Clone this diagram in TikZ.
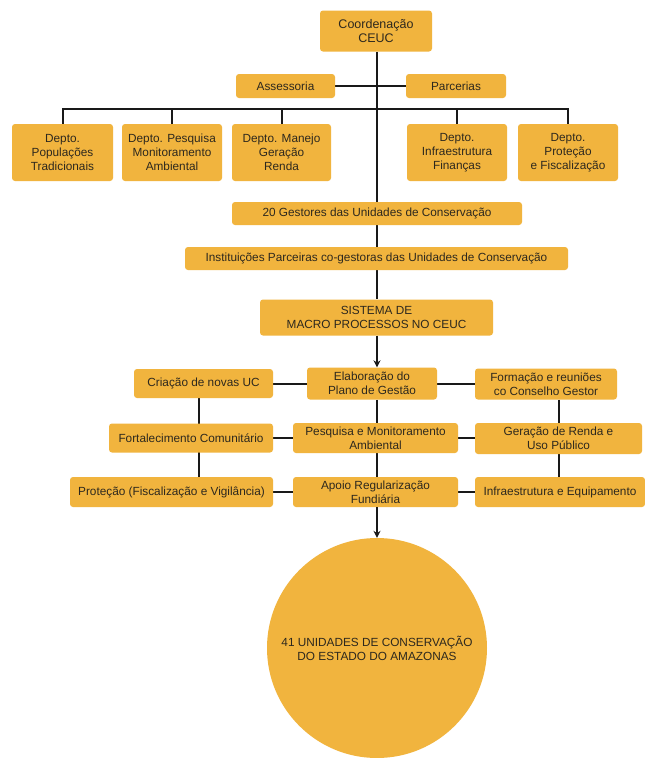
\documentclass[tikz,border=0pt]{standalone}
\usepackage{fontspec}
\setmainfont{Liberation Sans}
\usetikzlibrary{arrows.meta,backgrounds}
\definecolor{boxfill}{RGB}{241,180,62}
\definecolor{txt}{RGB}{45,40,30}
\definecolor{ln}{RGB}{25,25,25}
\tikzset{
  bx/.style={fill=boxfill,rounded corners=3pt,align=center,inner sep=1pt,text=txt,
    font=\fontsize{11.8}{14}\selectfont},
  conn/.style={draw=ln,line width=2pt},
  arr/.style={conn,-{Stealth[length=7pt,width=7pt]}},
}
\begin{document}
\begin{tikzpicture}[x=1pt,y=-1pt]
\useasboundingbox (0,0) rectangle (645,758);
\node[bx,minimum width=112pt,minimum height=41pt,font=\fontsize{12.5}{14.5}\selectfont] (coord) at (376,31) {Coordenação\\CEUC};
\node[bx,minimum width=99pt,minimum height=24pt] (assess) at (285.5,86) {Assessoria};
\node[bx,minimum width=100pt,minimum height=24pt] (parc) at (456,86) {Parcerias};
\node[bx,minimum width=101pt,minimum height=57pt] (d1) at (62.5,152.5) {Depto.\\Populações\\Tradicionais};
\node[bx,minimum width=100pt,minimum height=57pt] (d2) at (172,152.5) {Depto. Pesquisa\\Monitoramento\\Ambiental};
\node[bx,minimum width=99pt,minimum height=57pt] (d3) at (281.5,152.5) {Depto. Manejo\\Geração\\Renda};
\node[bx,minimum width=100pt,minimum height=57pt] (d4) at (457,152.5) {Depto.\\Infraestrutura\\Finanças};
\node[bx,minimum width=100pt,minimum height=57pt] (d5) at (568,152.5) {Depto.\\Proteção\\e Fiscalização};
\node[bx,minimum width=290pt,minimum height=23pt] (gest) at (377,213.5) {20 Gestores das Unidades de Conservação};
\node[bx,minimum width=383pt,minimum height=23pt] (inst) at (376.5,258.5) {Instituições Parceiras co-gestoras das Unidades de Conservação};
\node[bx,minimum width=233pt,minimum height=36pt] (sist) at (376.5,317.5) {SISTEMA DE\\MACRO PROCESSOS NO CEUC};
\node[bx,minimum width=130pt,minimum height=32pt] (elab) at (372,383.5) {Elaboração do\\Plano de Gestão};
\node[bx,minimum width=165pt,minimum height=30pt] (pesq) at (375.5,438) {Pesquisa e Monitoramento\\Ambiental};
\node[bx,minimum width=165pt,minimum height=30pt] (apoio) at (375.5,492) {Apoio Regularização\\Fundiária};
\node[bx,minimum width=139pt,minimum height=29pt] (criac) at (203.5,383.5) {Criação de novas UC};
\node[bx,minimum width=164pt,minimum height=29pt] (fort) at (191,438) {Fortalecimento Comunitário};
\node[bx,minimum width=203pt,minimum height=30pt] (prot) at (171.5,492) {Proteção (Fiscalização e Vigilância)};
\node[bx,minimum width=142pt,minimum height=31pt] (form) at (546,384) {Formação e reuniões\\co Conselho Gestor};
\node[bx,minimum width=167pt,minimum height=31pt] (gera) at (558.5,438.5) {Geração de Renda e\\Uso Público};
\node[bx,minimum width=170pt,minimum height=30pt] (infra) at (560,492) {Infraestrutura e Equipamento};
\node[bx,circle,minimum size=220pt] (uc) at (377,648) {41 UNIDADES DE CONSERVAÇÃO\\DO ESTADO DO AMAZONAS};
\coordinate (bus) at (377,109);
\coordinate (lv) at (199,0);
\coordinate (mv) at (377,0);
\coordinate (rv) at (559,0);
\begin{pgfonlayer}{background}
\fill[white] (0,0) rectangle (645,758);
\draw[conn] (mv |- coord.south) -- (mv |- gest.north);
\draw[conn] (mv |- gest.south) -- (mv |- inst.north);
\draw[conn] (mv |- inst.south) -- (mv |- sist.north);
\draw[conn] (assess.east) -- (parc.west);
\draw[conn] (d1.north) |- (bus) -| (d5.north);
\draw[conn] (d2.north) -- (d2.north |- bus);
\draw[conn] (d3.north) -- (d3.north |- bus);
\draw[conn] (d4.north) -- (d4.north |- bus);
\draw[conn] (criac.east) -- (criac.east -| elab.west);
\draw[conn] (fort.east) -- (fort.east -| pesq.west);
\draw[conn] (prot.east) -- (prot.east -| apoio.west);
\draw[conn] (elab.east) -- (elab.east -| form.west);
\draw[conn] (pesq.east) -- (pesq.east -| gera.west);
\draw[conn] (apoio.east) -- (apoio.east -| infra.west);
\draw[conn,line width=1.2pt] (lv |- criac.south) -- (lv |- prot.north);
\draw[conn] (mv |- elab.south) -- (mv |- apoio.north);
\draw[conn] (rv |- form.south) -- (rv |- infra.north);
\end{pgfonlayer}
\draw[arr] (mv |- sist.south) -- (mv |- elab.north);
\draw[arr] (mv |- apoio.south) -- (uc.north);
\end{tikzpicture}
\end{document}
